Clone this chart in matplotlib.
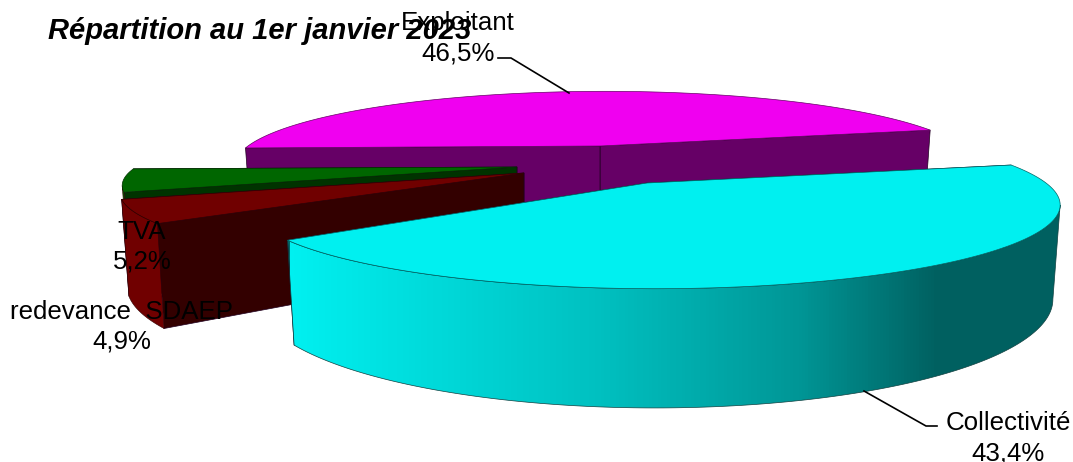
import numpy as np
import matplotlib

matplotlib.use('Agg')
import matplotlib.pyplot as plt
from matplotlib.colors import LinearSegmentedColormap
from matplotlib.patches import Polygon

plt.rcParams['font.family'] = ['Liberation Sans', 'DejaVu Sans']

TITLE = "Répartition au 1er janvier 2023"
names = ["Exploitant", "TVA", "redevance  SDAEP", "Collectivité"]
shares = [46.5, 5.2, 4.9, 43.4]
top_colors = ["#F000F0", "#006600", "#700000", "#00F0F0"]
cut_colors = ["#660066", "#003300", "#330000", "#006666"]
wall_colors = ["#660066", "#006600", "#700000", None]

# look of the exploded 3D pie, in pixels of the picture
START_ANGLE = 14.2
PERSPECTIVE = 0.262
DEPTH = 88
SHRINK = 0.982
centers = [(605, 146), (517, 167), (524, 173), (655, 183)]
apex_x = [600, 517, 524, 647]
radii_x = [357, 381, 390, 391]
radii_y = [69, 66, 69, 78]
label_pos = [(458, 38), (142, 247), (122, 327), (1008, 438)]
leaders = [([498, 511, 569], [58, 58, 93]), None, None, ([937, 926, 864], [426, 426, 391])]
gradient_x = [290, 600, 800, 900, 940, 1062]
gradient_level = [240, 192, 150, 112, 96, 96]


def project(theta, i):
    # circle seen in perspective, theta in degrees
    t = np.radians(theta)
    scale = 1 + PERSPECTIVE * np.sin(t)
    x = centers[i][0] + radii_x[i] * np.cos(t) / scale
    y = centers[i][1] - radii_y[i] * np.sin(t) / scale
    return x, y, DEPTH / scale


def lower(x, y, h, i):
    return centers[i][0] + (x - centers[i][0]) * SHRINK, y + h


def cut_face(theta, i):
    x, y, h = project(theta, i)
    xb, yb = lower(x, y, h, i)
    cy = centers[i][1]
    return [(apex_x[i], cy), (x, y), (xb, yb), (apex_x[i], cy + DEPTH)]


fig = plt.figure(figsize=(10.73, 4.62), dpi=100)
ax = fig.add_axes([0, 0, 1, 1])

angle = START_ANGLE
for i, share in enumerate(shares):
    span = share * 3.6
    thetas = np.linspace(angle, angle + span, 240)
    x, y, h = project(thetas, i)
    xb, yb = lower(x, y, h, i)

    for theta in (angle, angle + span):
        ax.add_patch(Polygon(cut_face(theta, i), facecolor=cut_colors[i], edgecolor="#200020", lw=0.5, zorder=i + 0.5))

    # only the part of the rim that faces the viewer gets a wall
    front = np.gradient(x) > 0
    if front.sum() > 1:
        wall = np.column_stack([np.r_[x[front], xb[front][::-1]], np.r_[y[front], yb[front][::-1]]])
        if wall_colors[i] is None:
            ramp = [(np.interp(v, gradient_x, gradient_level) / 255) for v in np.linspace(gradient_x[0], gradient_x[-1], 256)]
            cmap = LinearSegmentedColormap.from_list("wall", [(0, v, v) for v in ramp], N=256)
            img = ax.imshow(np.linspace(0, 1, 256)[None, :], cmap=cmap, aspect='auto',
                            extent=(gradient_x[0], gradient_x[-1], 462, 0), zorder=i + 1, interpolation='bilinear')
            patch = Polygon(wall, facecolor='none', edgecolor="#104040", lw=0.5, zorder=i + 1.1)
            ax.add_patch(patch)
            img.set_clip_path(patch)
        else:
            ax.add_patch(Polygon(wall, facecolor=wall_colors[i], edgecolor="#300000", lw=0.4, zorder=i + 1))

    top = np.column_stack([np.r_[apex_x[i], x], np.r_[centers[i][1], y]])
    ax.add_patch(Polygon(top, facecolor=top_colors[i], edgecolor=cut_colors[i], lw=0.5, zorder=i + 1.2))
    angle += span

for line in leaders:
    if line:
        ax.plot(line[0], line[1], color="black", lw=1.2, zorder=10, solid_joinstyle='miter')

for name, share, (lx, ly) in zip(names, shares, label_pos):
    value = f"{share:.1f}%".replace(".", ",")
    ax.text(lx, ly - 15, name, ha='center', va='center', fontsize=18.6, color="black", zorder=11)
    ax.text(lx, ly + 15, value, ha='center', va='center', fontsize=18.6, color="black", zorder=11)

ax.text(48, 31, TITLE, ha='left', va='center', fontsize=21, fontweight='bold', fontstyle='italic', zorder=12)

ax.set_xlim(0, 1073)
ax.set_ylim(462, 0)
ax.axis('off')

fig.savefig("out.png", dpi=100)
